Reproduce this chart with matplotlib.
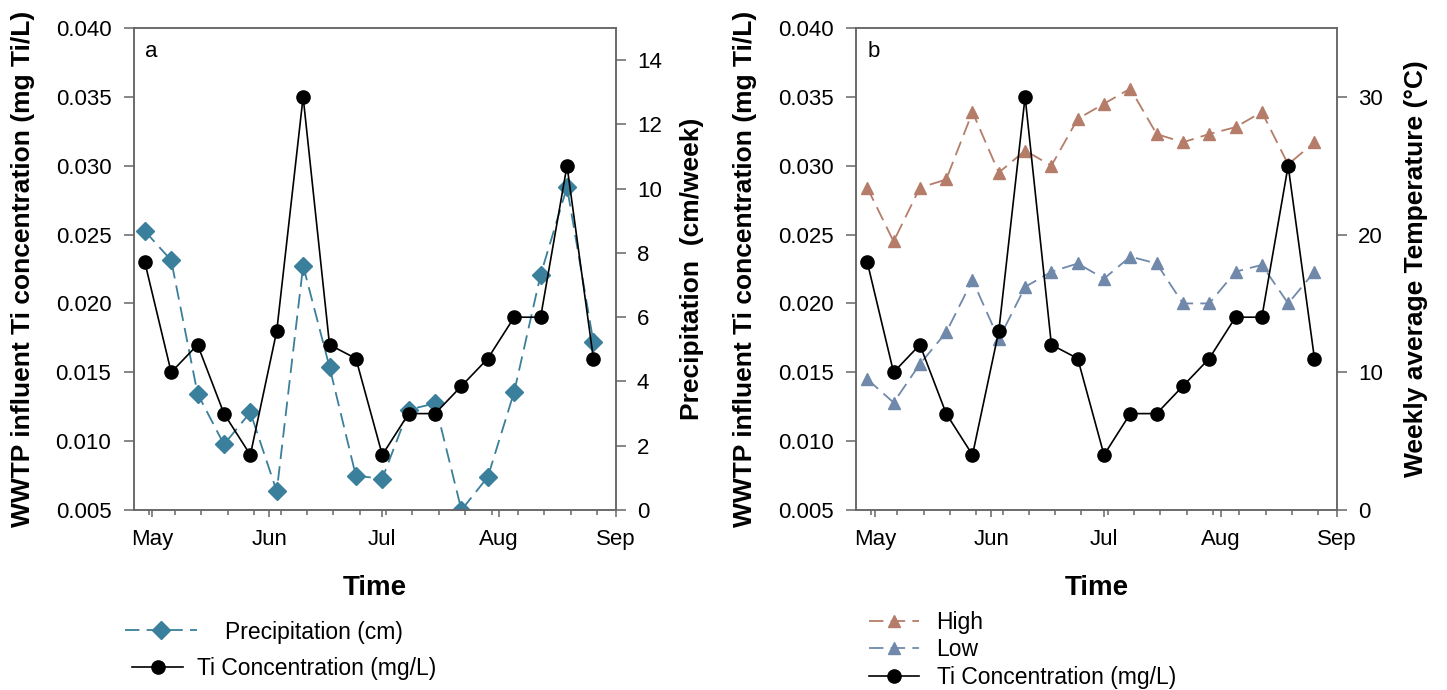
import datetime as dt
import matplotlib
matplotlib.use("Agg")
import matplotlib.pyplot as plt
import matplotlib.dates as mdates
from matplotlib.ticker import MultipleLocator, FormatStrFormatter

plt.rcParams["font.family"] = ["Liberation Sans", "DejaVu Sans"]

# weekly sampling dates
start = dt.date(2013, 4, 29)
dates = [start + dt.timedelta(days=7 * i) for i in range(18)]

ti_conc = [0.023, 0.015, 0.017, 0.012, 0.009, 0.018, 0.035, 0.017, 0.016,
           0.009, 0.012, 0.012, 0.014, 0.016, 0.019, 0.019, 0.030, 0.016]
precip = [8.68, 7.77, 3.62, 2.04, 3.04, 0.58, 7.60, 4.45, 1.06,
          0.98, 3.12, 3.32, 0.00, 1.03, 3.68, 7.32, 10.05, 5.23]
temp_high = [23.4, 19.5, 23.4, 24.0, 28.9, 24.5, 26.1, 25.0, 28.4,
             29.5, 30.6, 27.3, 26.7, 27.3, 27.8, 28.9, 25.1, 26.7]
temp_low = [9.5, 7.8, 10.6, 12.9, 16.7, 12.4, 16.2, 17.3, 17.9,
            16.8, 18.4, 17.9, 15.0, 15.0, 17.3, 17.8, 15.0, 17.3]

c_precip = "#3a7f9b"
c_high = "#b57d69"
c_low = "#7089ab"
spine_c = "#666666"
dash = (8, 4)
W, H = 1447, 690

fig = plt.figure(figsize=(W / 100, H / 100), dpi=100)
ax_a = fig.add_axes([133.5 / W, 180 / H, 482.5 / W, 482 / H])
ax_b = fig.add_axes([856 / W, 180 / H, 481 / W, 482 / H])


def style_axes(ax, ax2, panel):
    ax.set_xlim(dt.date(2013, 4, 26), dt.date(2013, 9, 1))
    ax.set_ylim(0.005, 0.040)
    ax.yaxis.set_major_locator(MultipleLocator(0.005))
    ax.yaxis.set_major_formatter(FormatStrFormatter("%.3f"))
    ax.xaxis.set_major_locator(mdates.MonthLocator())
    ax.xaxis.set_major_formatter(mdates.DateFormatter("%b"))
    ax.xaxis.set_minor_locator(mdates.WeekdayLocator(byweekday=mdates.TU))
    for a in (ax, ax2):
        for s in a.spines.values():
            s.set_color(spine_c)
            s.set_linewidth(1.1)
        a.tick_params(which="both", width=1.1, color=spine_c, labelsize=16)
    ax.tick_params(axis="y", length=7, pad=9)
    ax2.tick_params(axis="y", length=7, pad=8)
    ax.tick_params(axis="x", which="major", length=5, pad=9)
    ax.tick_params(axis="x", which="minor", length=3.5)
    ax.set_ylabel("WWTP influent Ti concentration (mg Ti/L)", fontsize=19,
                  fontweight="bold", labelpad=15)
    ax.set_xlabel("Time", fontsize=20, fontweight="bold", labelpad=18)
    ax.text(0.036, 0.952, panel, transform=ax.transAxes, fontsize=16,
            ha="center", va="center")


def fig_anchor(x, y):
    return (x / W, 1 - y / H)


# panel a: Ti concentration and precipitation
ax_a2 = ax_a.twinx()
ax_a2.set_zorder(ax_a.get_zorder() - 1)
ax_a.patch.set_visible(False)
ax_a2.set_ylim(0, 15)
ax_a2.yaxis.set_major_locator(MultipleLocator(2))
ax_a2.set_ylabel("Precipitation  (cm/week)", fontsize=19, fontweight="bold",
                 labelpad=13)
lp, = ax_a2.plot(dates, precip, color=c_precip, lw=1.3, dashes=dash,
                 marker="D", ms=9, mec=c_precip, mfc=c_precip)
lt, = ax_a.plot(dates, ti_conc, color="black", lw=1.2, marker="o", ms=9.5)
style_axes(ax_a, ax_a2, "a")

leg1 = ax_a.legend([lp], ["Precipitation (cm)"], loc="center left",
                   bbox_to_anchor=fig_anchor(125, 632),
                   bbox_transform=fig.transFigure, frameon=False,
                   fontsize=16.5, handlelength=3.14, handletextpad=1.22,
                   borderpad=0, borderaxespad=0)
ax_a.add_artist(leg1)
ax_a.legend([lt], ["Ti Concentration (mg/L)"], loc="center left",
            bbox_to_anchor=fig_anchor(132, 669),
            bbox_transform=fig.transFigure, frameon=False,
            fontsize=16.5, handlelength=2.23, handletextpad=0.6,
            borderpad=0, borderaxespad=0)

# panel b: Ti concentration and weekly temperature
ax_b2 = ax_b.twinx()
ax_b2.set_ylim(0, 35)
ax_b2.yaxis.set_major_locator(MultipleLocator(10))
ax_b2.set_ylabel("Weekly average Temperature (\u00b0C)", fontsize=19,
                 fontweight="bold", labelpad=15)
lh, = ax_b2.plot(dates, temp_high, color=c_high, lw=1.3, dashes=dash,
                 marker="^", ms=8.5)
ll, = ax_b2.plot(dates, temp_low, color=c_low, lw=1.3, dashes=dash,
                 marker="^", ms=8.5)
ax_b2.set_zorder(ax_b.get_zorder() - 1)
ax_b.patch.set_visible(False)
lt2, = ax_b.plot(dates, ti_conc, color="black", lw=1.2, marker="o", ms=9.5)
style_axes(ax_b, ax_b2, "b")
ax_b.legend([lh, ll, lt2], ["High", "Low", "Ti Concentration (mg/L)"],
            loc="center left", bbox_to_anchor=fig_anchor(869, 650),
            bbox_transform=fig.transFigure, frameon=False,
            fontsize=16.5, handlelength=2.2, handletextpad=0.75,
            labelspacing=0.18, borderpad=0, borderaxespad=0)

fig.savefig("out.png", dpi=100)
